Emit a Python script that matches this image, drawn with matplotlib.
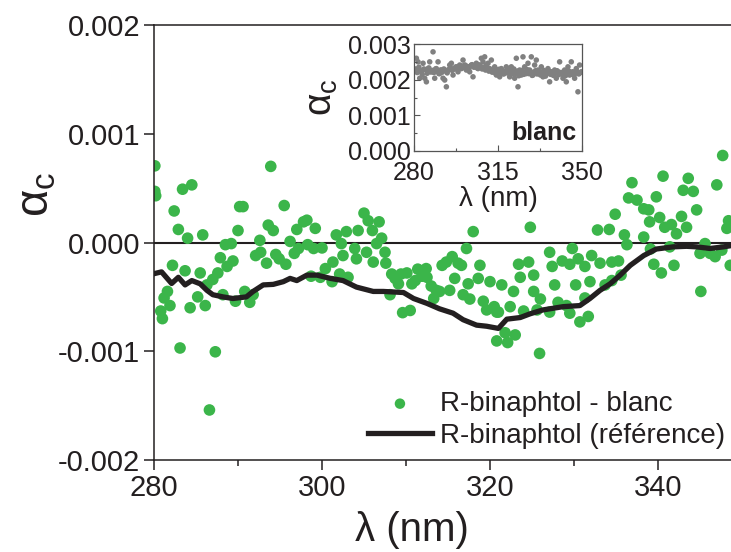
import numpy as np
import matplotlib
matplotlib.use("Agg")
import matplotlib.pyplot as plt
import matplotlib.transforms as mtrans
from matplotlib.ticker import MultipleLocator

plt.rcParams['font.family'] = ['Liberation Sans', 'DejaVu Sans']
plt.rcParams['mathtext.fontset'] = 'custom'
plt.rcParams['mathtext.rm'] = 'Liberation Sans'
plt.rcParams['mathtext.it'] = 'Liberation Sans'

# R-binaphtol - blanc (alpha_c in units of 1e-3)
wl_blanc = [280.1, 280.1, 280.2, 280.8, 281.0, 281.2, 281.6, 281.9, 282.2, 282.4,
            282.9, 283.1, 283.4, 283.7, 284.0, 284.3, 284.5, 285.2, 285.5, 285.8,
            286.1, 286.3, 286.6, 287.0, 287.3, 287.6, 287.9, 288.2, 288.5, 288.7,
            289.2, 289.4, 289.7, 290.0, 290.2, 290.6, 290.8, 291.4, 291.8, 292.1,
            292.6, 292.7, 293.4, 293.6, 293.9, 294.2, 294.5, 294.9, 295.5, 295.7,
            296.2, 296.7, 297.0, 297.2, 297.8, 298.2, 298.3, 298.7, 299.0, 299.2,
            299.8, 300.0, 300.4, 301.2, 301.3, 301.7, 302.1, 302.3, 302.5, 302.9,
            303.1, 303.9, 304.1, 304.3, 305.0, 305.3, 305.5, 306.0, 306.1, 306.5,
            306.8, 307.1, 307.5, 307.6, 308.1, 308.3, 308.7, 309.1, 309.4, 309.6,
            310.1, 310.5, 310.7, 311.1, 311.4, 311.9, 312.4, 312.5, 313.0, 313.3,
            313.6, 314.0, 314.3, 314.8, 315.2, 315.5, 315.8, 316.2, 316.6, 316.8,
            317.2, 317.4, 317.6, 318.0, 318.6, 318.8, 319.2, 319.6, 320.0, 320.5,
            320.8, 321.0, 321.4, 320.8, 321.8, 322.1, 322.4, 322.8, 323.0, 323.4,
            323.6, 324.0, 324.6, 324.8, 325.2, 325.2, 325.6, 325.9, 326.0, 327.1,
            327.1, 327.4, 327.7, 328.1, 328.6, 329.1, 329.5, 329.5, 329.8, 330.2,
            330.5, 330.7, 331.3, 331.3, 331.7, 332.1, 331.9, 332.8, 333.1, 333.7,
            334.2, 334.5, 334.5, 334.9, 335.3, 335.6, 336.0, 336.3, 336.5, 336.9,
            337.5, 338.3, 338.3, 338.9, 339.0, 339.1, 339.5, 339.8, 340.2, 340.4,
            340.6, 340.8, 341.4, 341.6, 341.9, 342.2, 342.8, 343.0, 343.4, 343.6,
            344.2, 344.6, 345.0, 345.1, 345.6, 346.2, 346.8, 347.0, 347.6, 347.7,
            348.2, 348.4, 348.6]
ac_blanc = [0.705, 0.47, 0.43, -0.63, -0.70, -0.51, -0.45, -0.58, -0.21, 0.29,
            0.12, -0.97, 0.49, -0.26, 0.04, -0.60, 0.53, -0.50, -0.28, 0.07,
            -0.58, -0.39, -1.54, -0.34, -1.005, -0.28, -0.14, -0.48, -0.02, -0.22,
            -0.01, -0.17, -0.54, 0.11, 0.33, 0.33, -0.45, -0.55, -0.48, -0.12,
            0.02, -0.09, -0.19, 0.16, 0.70, 0.11, -0.11, -0.15, 0.34, -0.20,
            0.01, -0.10, 0.12, -0.055, 0.19, 0.205, -0.02, -0.31, -0.055, 0.13,
            -0.32, -0.05, -0.24, -0.36, -0.18, 0.07, -0.29, -0.01, -0.12, 0.10,
            -0.32, -0.055, -0.15, 0.11, 0.27, -0.09, 0.20, 0.11, -0.18, -0.01,
            0.19, 0.04, -0.09, -0.19, -0.48, -0.29, -0.33, -0.38, -0.29, -0.645,
            -0.28, -0.625, -0.38, -0.35, -0.245, -0.31, -0.24, -0.32, -0.40, -0.515,
            -0.44, -0.45, -0.21, -0.18, -0.44, -0.13, -0.33, -0.19, -0.21, -0.48,
            -0.055, -0.38, -0.52, 0.10, -0.33, -0.21, -0.54, -0.62, -0.36, -0.59,
            -0.64, -0.64, -0.39, -0.905, -0.83, -0.92, -0.59, -0.45, -0.85, -0.20,
            -0.32, -0.63, -0.18, 0.14, -0.30, -0.45, -0.62, -1.02, -0.52, -0.09,
            -0.64, -0.22, -0.39, -0.55, -0.17, -0.58, -0.20, -0.65, -0.055, -0.39,
            -0.15, -0.73, -0.22, -0.51, -0.68, -0.12, -0.36, 0.115, -0.19, -0.39,
            0.12, -0.18, -0.35, 0.26, -0.17, -0.30, 0.07, -0.02, 0.41, 0.55,
            0.39, 0.31, 0.05, 0.30, 0.19, -0.06, -0.20, 0.42, 0.23, -0.28,
            0.61, 0.14, -0.04, 0.165, -0.21, 0.08, 0.24, 0.48, 0.14, 0.59,
            0.47, 0.30, -0.10, -0.45, -0.01, -0.10, -0.13, 0.53, -0.07, 0.80,
            0.13, 0.20, -0.21]

# R-binaphtol (reference)
wl_ref = [280.1, 280.9, 282.1, 282.9, 283.7, 284.5, 285.5, 286.3, 287.0, 288.2,
          289.4, 291.0, 291.8, 293.0, 294.2, 295.4, 296.2, 297.0, 298.2, 299.4,
          301.0, 302.5, 304.1, 306.1, 307.3, 309.7, 310.9, 312.5, 314.0, 315.6,
          316.8, 318.4, 319.6, 321.0, 322.0, 323.6, 324.8, 326.3, 328.7, 330.7,
          331.9, 333.1, 334.3, 335.5, 336.7, 338.3, 339.8, 341.8, 343.4, 344.6,
          346.2, 347.8, 348.6]
ac_ref = [-0.285, -0.27, -0.377, -0.32, -0.39, -0.35, -0.38, -0.44, -0.48, -0.50,
          -0.515, -0.50, -0.45, -0.39, -0.385, -0.36, -0.33, -0.35, -0.30, -0.30,
          -0.33, -0.35, -0.41, -0.45, -0.45, -0.46, -0.515, -0.56, -0.61, -0.65,
          -0.71, -0.76, -0.77, -0.79, -0.705, -0.69, -0.655, -0.62, -0.59, -0.58,
          -0.515, -0.44, -0.38, -0.30, -0.21, -0.12, -0.06, -0.04, -0.035, -0.04,
          -0.055, -0.04, -0.03]

# inset: blanc alone (units of 1e-3)
ac_inset = [2.27, 2.30, 2.60, 2.20, 2.50, 2.35, 2.04, 2.25, 2.22, 2.15, 2.46, 2.30,
            2.04, 2.28, 1.94, 2.18, 2.31, 2.33, 2.50, 2.22, 2.22, 2.26, 2.78, 2.20,
            2.04, 2.30, 2.31, 2.24, 2.50, 2.17, 2.17, 2.27, 2.27, 2.21, 2.04, 2.30,
            1.99, 2.25, 1.80, 2.19, 2.27, 2.28, 2.41, 2.33, 2.46, 2.26, 2.13, 2.30,
            2.31, 2.35, 2.36, 2.29, 2.22, 2.36, 2.41, 2.32, 2.31, 2.38, 2.55, 2.34,
            2.41, 2.40, 2.27, 2.36, 2.36, 2.31, 2.22, 2.38, 2.41, 2.42, 2.08, 2.35,
            2.36, 2.39, 2.46, 2.33, 2.31, 2.41, 2.41, 2.37, 2.60, 2.30, 2.50, 2.34,
            2.64, 2.27, 2.41, 2.31, 2.46, 2.24, 2.31, 2.28, 2.55, 2.21, 2.27, 2.25,
            2.36, 2.18, 2.13, 2.23, 2.27, 2.29, 2.08, 2.20, 2.31, 2.26, 2.17, 2.16,
            2.22, 2.23, 2.36, 2.19, 2.27, 2.27, 2.08, 2.14, 2.36, 2.22, 2.17, 2.30,
            2.04, 2.18, 2.60, 2.24, 1.80, 2.11, 2.27, 2.20, 2.13, 2.26, 2.64, 2.15,
            2.36, 2.21, 2.17, 2.28, 2.46, 2.17, 2.27, 2.23, 2.64, 2.12, 2.13, 2.19,
            2.41, 2.25, 2.55, 2.16, 2.27, 2.22, 2.22, 2.13, 2.36, 2.20, 2.08, 2.26,
            2.22, 2.10, 2.17, 2.18, 2.31, 2.24, 1.94, 2.15, 2.22, 2.21, 2.13, 2.12,
            2.27, 2.19, 2.04, 2.25, 2.22, 2.14, 2.50, 2.20, 2.17, 2.17, 2.04, 2.23,
            2.27, 2.11, 1.94, 2.19, 2.36, 2.24, 2.13, 2.15, 2.50, 2.21, 2.22, 2.13,
            2.04, 2.18, 2.31, 2.22, 1.66, 2.16, 2.41, 2.20, 2.22]

green = '#3bb54a'
dark = '#231f20'

fig = plt.figure(figsize=(7.31, 5.52), dpi=100)
ax = fig.add_axes([154/731, 92/552, 588/731, 435/552])

ax.axhline(0, color=dark, lw=1.5, zorder=1)
ax.scatter(wl_blanc, np.array(ac_blanc) * 1e-3, s=70, color=green, edgecolors='none',
           zorder=2, label='R-binaphtol - blanc')
ax.plot(wl_ref, np.array(ac_ref) * 1e-3, color=dark, lw=3.8, zorder=3,
        label='R-binaphtol (référence)')

ax.set_xlim(280, 350)
ax.set_ylim(-0.002, 0.002)
ax.xaxis.set_major_locator(MultipleLocator(20))
ax.xaxis.set_minor_locator(MultipleLocator(10))
ax.yaxis.set_major_locator(MultipleLocator(0.001))
ax.set_yticklabels(['%.3f' % v for v in ax.get_yticks()])
ax.tick_params(axis='both', which='major', labelsize=21, length=7, width=1.1,
               colors=dark, direction='out', pad=3)
ax.tick_params(axis='x', which='minor', length=4, width=1.1, color=dark, direction='out')
for s in ax.spines.values():
    s.set_linewidth(1.1)
    s.set_color(dark)

fig.text(412/731, 1 - 530/552, 'λ (nm)', fontsize=29, color=dark, ha='center', va='center')
fig.text(36/731, 1 - 195/552, r'$\alpha_\mathrm{c}$', fontsize=34, color=dark,
         ha='center', va='center', rotation=90)

leg = ax.legend(loc='center left', bbox_to_anchor=(368/731, 1 - 420/552),
                bbox_transform=fig.transFigure, frameon=False, borderpad=0,
                fontsize=20, handlelength=2.3, handletextpad=0.3, labelspacing=0.22,
                borderaxespad=0, markerscale=0.9)
for t in leg.get_texts():
    t.set_color(dark)

# inset
axi = fig.add_axes([414/731, 1 - 151/552, 168/731, 107/552])
wl_inset = np.linspace(280.3, 349.7, len(ac_inset))
axi.scatter(wl_inset, np.array(ac_inset) * 1e-3, s=16, color='#808080', edgecolors='none')
axi.set_xlim(280, 350)
axi.set_ylim(0, 0.003)
axi.set_xticks([280, 315, 350])
axi.xaxis.set_minor_locator(MultipleLocator(17.5))
axi.yaxis.set_major_locator(MultipleLocator(0.001))
axi.yaxis.set_minor_locator(MultipleLocator(0.0005))
axi.set_yticklabels(['%.3f' % v for v in axi.get_yticks()])
axi.tick_params(which='major', direction='in', length=4, width=0.8, labelsize=18,
                colors=dark, color='#555555', pad=2)
axi.tick_params(axis='x', which='major', pad=7)
axi.tick_params(which='minor', direction='in', length=2.5, width=0.8, color='#555555')
for s in axi.spines.values():
    s.set_linewidth(0.9)
    s.set_color('#555555')
# lift the 0.000 label a little so it does not sit on the 280 label
lbl0 = axi.get_yticklabels()[0]
lbl0.set_transform(lbl0.get_transform() + mtrans.ScaledTranslation(0, 3/72, fig.dpi_scale_trans))
axi.set_xlabel('λ (nm)', fontsize=20, color=dark, labelpad=1)
axi.set_ylabel(r'$\alpha_\mathrm{c}$', fontsize=28, color=dark, labelpad=6)
axi.text(0.97, 0.06, 'blanc', transform=axi.transAxes, fontsize=18, fontweight='bold',
         color=dark, ha='right', va='bottom')

fig.savefig('out.png', dpi=100)
